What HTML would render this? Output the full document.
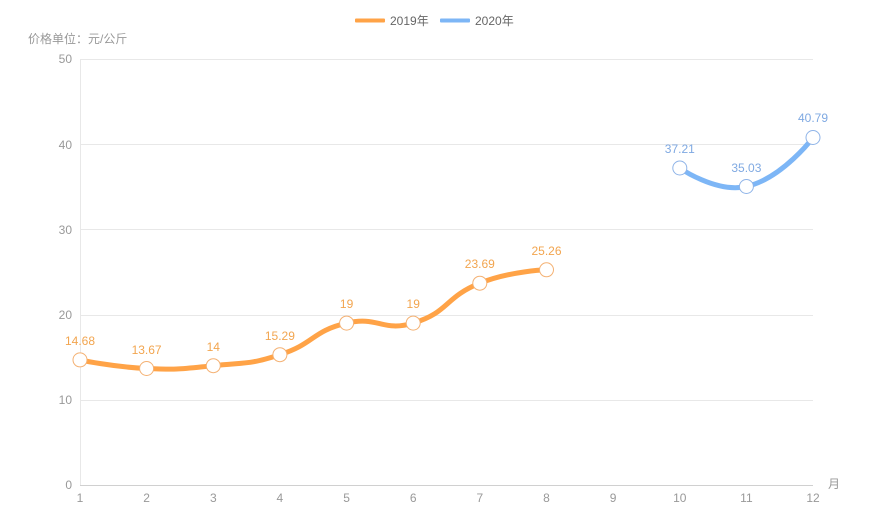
<!DOCTYPE html>
<html><head><meta charset="utf-8"><style>
html,body{margin:0;padding:0;background:#fff;}
svg{display:block;font-family:"Liberation Sans","Noto Sans CJK SC",sans-serif;}
</style></head><body>
<svg width="873" height="522" viewBox="0 0 873 522" xmlns="http://www.w3.org/2000/svg">
<rect width="873" height="522" fill="#fff"/>
<!-- legend -->
<rect x="355" y="18.5" width="30" height="4" rx="1" fill="#ffa347"/>
<text x="390" y="25" font-size="12" fill="#666">2019年</text>
<rect x="440" y="18.5" width="30" height="4" rx="1" fill="#7db6f6"/>
<text x="475" y="25" font-size="12" fill="#666">2020年</text>
<text x="28" y="43" font-size="12" fill="#999">价格单位：元/公斤</text>
<!-- grid -->
<g stroke="#e8e8e8" stroke-width="1">
<line x1="80" y1="59.5" x2="813" y2="59.5"/>
<line x1="80" y1="144.5" x2="813" y2="144.5"/>
<line x1="80" y1="229.5" x2="813" y2="229.5"/>
<line x1="80" y1="315.5" x2="813" y2="315.5"/>
<line x1="80" y1="400.5" x2="813" y2="400.5"/>
<line x1="80.5" y1="59" x2="80.5" y2="485"/>
</g>
<line x1="80" y1="485.5" x2="813" y2="485.5" stroke="#d0d0d0" stroke-width="1"/>
<g font-size="12" fill="#999" text-anchor="end">
<text x="72" y="63">50</text>
<text x="72" y="149">40</text>
<text x="72" y="234">30</text>
<text x="72" y="319">20</text>
<text x="72" y="404">10</text>
<text x="72" y="489">0</text>
</g>
<g font-size="12" fill="#999" text-anchor="middle">
<text x="80" y="502">1</text>
<text x="146.6" y="502">2</text>
<text x="213.3" y="502">3</text>
<text x="279.9" y="502">4</text>
<text x="346.6" y="502">5</text>
<text x="413.2" y="502">6</text>
<text x="479.8" y="502">7</text>
<text x="546.5" y="502">8</text>
<text x="613.1" y="502">9</text>
<text x="679.8" y="502">10</text>
<text x="746.4" y="502">11</text>
<text x="813" y="502">12</text>
</g>
<text x="828" y="488" font-size="12" fill="#999">月</text>
<!-- series 2019 -->
<path d="M80,359.9 C80,359.9 113.1,367.0 146.6,368.5 C179.8,369.9 180.2,369.1 213.3,365.7 C246.8,362.2 248.0,364.9 279.9,354.7 C314.7,343.6 311.5,331.4 346.6,323.1 C378.2,315.6 382.4,332.3 413.2,323.1 C449.0,312.4 444.3,297.4 479.8,283.2 C510.9,270.8 546.5,269.8 546.5,269.8" fill="none" stroke="#ffa347" stroke-width="5" stroke-linecap="round" stroke-linejoin="round"/>
<g fill="#fff" stroke="#f4b173" stroke-width="1">
<circle cx="80" cy="359.9" r="7"/>
<circle cx="146.6" cy="368.5" r="7"/>
<circle cx="213.3" cy="365.7" r="7"/>
<circle cx="279.9" cy="354.7" r="7"/>
<circle cx="346.6" cy="323.1" r="7"/>
<circle cx="413.2" cy="323.1" r="7"/>
<circle cx="479.8" cy="283.2" r="7"/>
<circle cx="546.5" cy="269.8" r="7"/>
</g>
<g font-size="12" fill="#f2a54f" text-anchor="middle">
<text x="80" y="345">14.68</text>
<text x="146.6" y="354">13.67</text>
<text x="213.3" y="351">14</text>
<text x="279.9" y="340">15.29</text>
<text x="346.6" y="308">19</text>
<text x="413.2" y="308">19</text>
<text x="479.8" y="268">23.69</text>
<text x="546.5" y="255">25.26</text>
</g>
<!-- series 2020 -->
<path d="M679.8,168 C679.8,168 716.1,193.4 746.4,186.5 C782.7,178.2 813,137.5 813,137.5" fill="none" stroke="#7db6f6" stroke-width="5" stroke-linecap="round" stroke-linejoin="round"/>
<g fill="#fff" stroke="#8fb4e8" stroke-width="1">
<circle cx="679.8" cy="168" r="7"/>
<circle cx="746.4" cy="186.5" r="7"/>
<circle cx="813" cy="137.5" r="7"/>
</g>
<g font-size="12" fill="#7fa9e2" text-anchor="middle">
<text x="679.8" y="153">37.21</text>
<text x="746.4" y="172">35.03</text>
<text x="813" y="122">40.79</text>
</g>
</svg>
</body></html>
